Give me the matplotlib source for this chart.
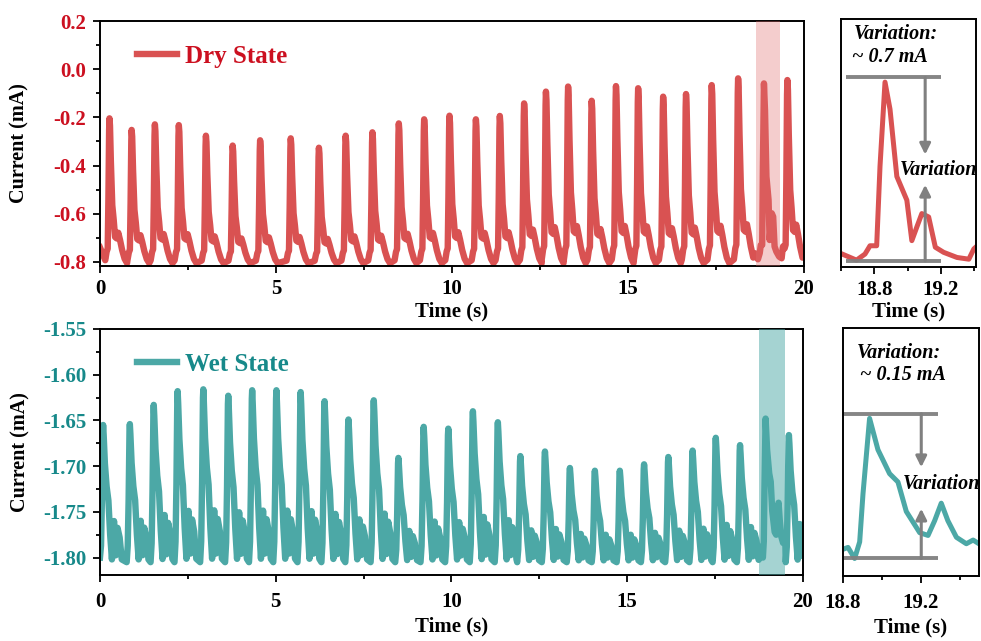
import numpy as np
import matplotlib
matplotlib.use("Agg")
import matplotlib.pyplot as plt
from matplotlib.ticker import MultipleLocator

plt.rcParams['font.family'] = ['Liberation Serif', 'DejaVu Serif']
plt.rcParams['font.weight'] = 'bold'
plt.rcParams['axes.linewidth'] = 1.4

RED_LINE = '#D95252'
RED_TEXT = '#CC1020'
TEAL_LINE = '#4CA8A6'
TEAL_TEXT = '#17898A'
GRAY = '#808080'

# dry state: peak times (s) and peak currents (mA)
dry_peak_t = [0.27, 0.90, 1.56, 2.24, 3.01, 3.77, 4.55, 5.42, 6.22, 6.98, 7.74, 8.49, 9.21, 9.93,
              10.68, 11.36, 12.05, 12.67, 13.30, 13.97, 14.66, 15.29, 16.00, 16.65, 17.38, 18.13,
              18.86, 19.53]
dry_peak_v = [-0.204, -0.252, -0.229, -0.232, -0.276, -0.317, -0.295, -0.287, -0.326, -0.276,
              -0.262, -0.225, -0.208, -0.193, -0.208, -0.194, -0.142, -0.093, -0.072, -0.131,
              -0.070, -0.079, -0.114, -0.103, -0.066, -0.038, -0.059, -0.045]
dry_base = -0.805
# one heartbeat: time from peak (s), fraction of peak height above base
dry_beat_dt = [-0.12, -0.08, -0.05, -0.03, -0.01, 0.0, 0.015, 0.04, 0.08, 0.12, 0.16, 0.21,
               0.25, 0.30, 0.36, 0.43, 0.50]
dry_beat_f = [0.02, 0.08, 0.10, 0.45, 0.92, 1.0, 0.95, 0.70, 0.40, 0.30, 0.18, 0.17,
              0.21, 0.16, 0.09, 0.03, 0.0]
dry_ends = [(0.0, -0.74), (20.0, -0.78)]

# dry state, zoomed window 18.6-19.41 s
dry_zoom_t = [18.607, 18.693, 18.744, 18.774, 18.814, 18.834, 18.864, 18.894, 18.935, 18.995,
              19.025, 19.055, 19.085, 19.126, 19.166, 19.216, 19.296, 19.367, 19.397, 19.41]
dry_zoom_v = [-0.764, -0.789, -0.764, -0.730, -0.730, -0.404, -0.059, -0.170, -0.446, -0.543,
              -0.709, -0.653, -0.598, -0.612, -0.736, -0.757, -0.778, -0.785, -0.743, -0.735]

# wet state
wet_peak_t = [0.09, 0.85, 1.53, 2.21, 2.94, 3.65, 4.33, 5.02, 5.71, 6.39, 7.07, 7.79, 8.49, 9.21,
              9.91, 10.61, 11.32, 11.96, 12.66, 13.37, 14.08, 14.79, 15.48, 16.17, 16.86, 17.52,
              18.21, 18.93, 19.60]
wet_peak_v = [-1.655, -1.654, -1.633, -1.618, -1.616, -1.623, -1.617, -1.617, -1.619, -1.629,
              -1.649, -1.628, -1.691, -1.657, -1.659, -1.640, -1.652, -1.689, -1.684, -1.702,
              -1.705, -1.705, -1.698, -1.690, -1.683, -1.669, -1.677, -1.647, -1.666]
wet_base = -1.805
wet_beat_dt = [-0.09, -0.06, -0.035, -0.01, 0.0, 0.015, 0.05, 0.10, 0.15, 0.20, 0.25, 0.31,
               0.36, 0.41, 0.47, 0.53]
wet_beat_f = [0.0, 0.12, 0.45, 0.95, 1.0, 0.93, 0.72, 0.55, 0.45, 0.20, 0.02, 0.30,
              0.05, 0.25, 0.18, 0.02]
wet_ends = [(0.0, -1.80), (20.0, -1.765)]

wet_zoom_t = [18.80, 18.826, 18.86, 18.886, 18.903, 18.937, 18.98, 19.04, 19.083, 19.126, 19.195,
              19.238, 19.272, 19.306, 19.34, 19.384, 19.435, 19.47, 19.50]
wet_zoom_v = [-1.790, -1.788, -1.800, -1.782, -1.730, -1.648, -1.682, -1.708, -1.717, -1.749,
              -1.772, -1.775, -1.759, -1.740, -1.759, -1.777, -1.784, -1.780, -1.784]


def build_trace(peak_t, peak_v, base, beat_dt, beat_f, ends, zoom_t, zoom_v):
    t, v = [ends[0][0]], [ends[0][1]]
    for tp, vp in zip(peak_t, peak_v):
        for dt, f in zip(beat_dt, beat_f):
            if 0 < tp + dt < 20:
                t.append(tp + dt)
                v.append(base + f * (vp - base))
    t.append(ends[1][0])
    v.append(ends[1][1])
    t, v = np.array(t), np.array(v)
    order = np.argsort(t)
    t, v = t[order], v[order]
    # use the finer record inside the zoom window
    keep = (t < zoom_t[0]) | (t > zoom_t[-1])
    t = np.concatenate([t[keep], zoom_t])
    v = np.concatenate([v[keep], zoom_v])
    order = np.argsort(t)
    return t[order], v[order]


def style_axes(ax, ycolor, xpad):
    ax.tick_params(which='both', direction='out', width=1.3, labelsize=15)
    ax.tick_params(which='major', length=5)
    ax.tick_params(which='minor', length=3)
    ax.tick_params(axis='y', labelcolor=ycolor, pad=5)
    ax.tick_params(axis='x', pad=xpad)
    for lab in ax.get_xticklabels() + ax.get_yticklabels():
        lab.set_fontweight('bold')


def draw_zoom(ax, t, v, color, ylim, xlim, xticks, top, bottom, line_x0, line_x1, arrow_x,
              arrow_top, arrow_bot, var_xy, txt1_xy, txt2_xy, txt2, xpad, xlabel_y):
    ax.plot(t, v, color=color, lw=3.6)
    ax.set_xlim(*xlim)
    ax.set_ylim(*ylim)
    ax.set_xticks(xticks)
    ax.xaxis.set_minor_locator(MultipleLocator(0.2))
    ax.set_yticks([])
    ax.hlines([top, bottom], line_x0, line_x1, color=GRAY, lw=2.8, alpha=0.95)
    arrow = dict(arrowstyle='-|>', color=GRAY, lw=2.2, mutation_scale=16, shrinkA=0, shrinkB=0)
    ax.annotate('', xy=(arrow_x, arrow_top), xytext=(arrow_x, top), arrowprops=arrow)
    ax.annotate('', xy=(arrow_x, arrow_bot), xytext=(arrow_x, bottom), arrowprops=arrow)
    for (x, y), s in [(var_xy, 'Variation'), (txt1_xy, 'Variation:'), (txt2_xy, txt2)]:
        ax.text(x, y, s, style='italic', fontweight='bold', fontsize=14.5,
                va='baseline', ha='left')
    ax.set_xlabel('Time (s)', fontsize=15, fontweight='bold')
    ax.xaxis.set_label_coords(0.5, xlabel_y)
    style_axes(ax, 'black', xpad)


fig = plt.figure(figsize=(9.81, 6.41), dpi=100)
ax1 = fig.add_axes([0.1019, 0.585, 0.7176, 0.3822])
ax2 = fig.add_axes([0.8573, 0.5835, 0.1376, 0.3869])
ax3 = fig.add_axes([0.1019, 0.103, 0.7166, 0.3838])
ax4 = fig.add_axes([0.8593, 0.1014, 0.1386, 0.3869])

dry_t, dry_v = build_trace(dry_peak_t, dry_peak_v, dry_base, dry_beat_dt, dry_beat_f, dry_ends,
                           dry_zoom_t, dry_zoom_v)
wet_t, wet_v = build_trace(wet_peak_t, wet_peak_v, wet_base, wet_beat_dt, wet_beat_f, wet_ends,
                           wet_zoom_t, wet_zoom_v)

legend_font = dict(family='Liberation Serif', weight='bold', size=18)

# dry state, full record
ax1.plot(dry_t, dry_v, color=RED_LINE, lw=4.6, label='Dry State')
ax1.axvspan(18.63, 19.32, color='#E07070', alpha=0.35, lw=0, zorder=3)
ax1.set_xlim(0, 20)
ax1.set_ylim(-0.817, 0.2)
ax1.set_xticks([0, 5, 10, 15, 20])
ax1.set_yticks([-0.8, -0.6, -0.4, -0.2, 0.0, 0.2])
ax1.set_yticklabels(['-0.8', '-0.6', '-0.4', '-0.2', '0.0', '0.2'])
ax1.xaxis.set_minor_locator(MultipleLocator(2.5))
ax1.yaxis.set_minor_locator(MultipleLocator(0.1))
ax1.set_xlabel('Time (s)', fontsize=15, fontweight='bold')
ax1.xaxis.set_label_coords(0.5, -0.145)
ax1.set_ylabel('Current (mA)', fontsize=14.5, fontweight='bold')
ax1.yaxis.set_label_coords(-0.0995, 0.5)
style_axes(ax1, RED_TEXT, 4.5)
ax1.legend(loc='upper left', bbox_to_anchor=(0.02, 0.995), frameon=False, handlelength=1.6,
           handletextpad=0.35, prop=legend_font, labelcolor=RED_TEXT)

draw_zoom(ax2, dry_zoom_t, dry_zoom_v, RED_LINE, (-0.817, 0.2), (18.6, 19.41), [18.8, 19.2],
          -0.04, -0.792, 18.63, 19.2, 19.105, -0.356, -0.48, (18.95, -0.439),
          (18.675, 0.118), (18.665, 0.0245), '~ 0.7 mA', 4.5, -0.14)

# wet state, full record
ax3.plot(wet_t, wet_v, color=TEAL_LINE, lw=4.6, label='Wet State')
ax3.axvspan(18.75, 19.48, color=TEAL_LINE, alpha=0.5, lw=0, zorder=3)
ax3.set_xlim(0, 20)
ax3.set_ylim(-1.819, -1.55)
ax3.set_xticks([0, 5, 10, 15, 20])
ax3.set_yticks([-1.80, -1.75, -1.70, -1.65, -1.60, -1.55])
ax3.set_yticklabels(['-1.80', '-1.75', '-1.70', '-1.65', '-1.60', '-1.55'])
ax3.xaxis.set_minor_locator(MultipleLocator(2.5))
ax3.yaxis.set_minor_locator(MultipleLocator(0.025))
ax3.set_xlabel('Time (s)', fontsize=15, fontweight='bold')
ax3.xaxis.set_label_coords(0.5, -0.168)
ax3.set_ylabel('Current (mA)', fontsize=14.5, fontweight='bold')
ax3.yaxis.set_label_coords(-0.0995, 0.5)
style_axes(ax3, TEAL_TEXT, 7)
ax3.legend(loc='upper left', bbox_to_anchor=(0.02, 0.995), frameon=False, handlelength=1.6,
           handletextpad=0.35, prop=legend_font, labelcolor=TEAL_TEXT)

draw_zoom(ax4, wet_zoom_t, wet_zoom_v, TEAL_LINE, (-1.819, -1.55), (18.8, 19.5), [18.8, 19.2],
          -1.643, -1.80, 18.8, 19.29, 19.203, -1.701, -1.746, (19.11, -1.725),
          (18.869, -1.582), (18.886, -1.6065), '~ 0.15 mA', 7, -0.168)

fig.savefig('out.png', dpi=100)
